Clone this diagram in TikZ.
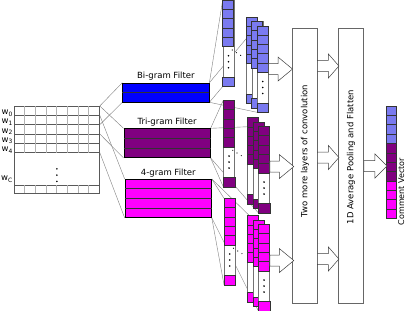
\documentclass[tikz,border=0pt]{standalone}
\usepackage{fontspec}
\setmainfont{DejaVu Sans}
\usetikzlibrary{calc,positioning,backgrounds}
\definecolor{CellBlue}{RGB}{122,122,240}
\definecolor{FiltBlue}{RGB}{0,0,255}
\definecolor{CellPurple}{RGB}{128,0,128}
\definecolor{CellMagenta}{RGB}{255,0,255}
\tikzset{
  gridline/.style={draw=black!65,line width=0.5pt},
  gridthin/.style={draw=black!30,line width=0.4pt},
  filter/.style={draw=black,line width=0.6pt,minimum width=86.5pt,
    inner sep=0pt,anchor=north west},
  flabel/.style={font=\fontsize{8.5}{10}\selectfont,inner sep=1pt},
  wlabel/.style={font=\fontsize{8.5}{10}\selectfont,inner sep=0pt,anchor=base east},
  colbox/.style={draw=black!55,fill=white,line width=0.5pt,minimum width=11pt,
    minimum height=86pt,inner sep=0pt,anchor=north west},
  cell/.style={draw=black!80,line width=0.5pt},
  link/.style={draw=black!50,line width=0.4pt},
  bigbox/.style={draw=black!60,line width=0.6pt,fill=white,inner sep=0pt,
    anchor=north west,minimum height=275pt},
  boxtext/.style={rotate=90,font=\fontsize{8.5}{10}\selectfont,inner sep=0pt},
  barrow/.style={draw=black!75,fill=white,line width=0.5pt},
  dotrow/.style={black,line width=1.2pt,dash pattern=on 0pt off 5pt,line cap=round}
}
% one feature map column: name, top-left, colour
\newcommand\featcol[3]{%
  \node[colbox] (#1) at (#2) {};
  \foreach \k in {0,...,4}
    {\draw[cell,fill=#3] ($(#1.north west)+(0,\k*9.3)$) rectangle ++(11,9.3);}
  \draw[cell,fill=#3] ($(#1.south west)+(0,-9.3)$) rectangle (#1.south east);
}
\newcommand\coldots[1]{%
  \foreach \d in {-6,0,6}
    {\fill ($(#1.center)+(0,18.5+\d)$) circle (0.9pt);}
}
% three stacked maps: prefix, top-left of the back one, colour
\newcommand\fmapstack[3]{%
  \foreach \i in {1,2,3}
    {\featcol{#1\i}{$(#2)+(\i*5.5-5.5,\i*4.4-4.4)$}{#3}}
  \coldots{#13}
}
% hollow block arrow: start, shaft length, head length
\newcommand\blockarrow[3]{%
  \draw[barrow] ($(#1)+(0,-5.5)$) -- ++(#2,0) -- ++(0,-6.5) -- ++(#3,12)
    -- ++(-#3,12) -- ++(0,-6.5) -- ++(-#2,0) -- cycle;
}

\begin{document}
\begin{tikzpicture}[x=1pt,y=-1pt]
  \useasboundingbox (0,0) rectangle (406,310);

  % embedding matrix
  \node[anchor=north west,draw=black!65,line width=0.5pt,minimum width=85.3pt,
    minimum height=86.7pt,inner sep=0pt] (emb) at (14,106) {};
  \foreach \r in {1,...,5}
    \draw[gridline] ($(emb.north west)+(0,\r*9.33)$) -- ++(85.3,0);
  \draw[gridline] ($(emb.south west)+(0,-8.4)$) -- ++(85.3,0);
  \foreach \c in {1,...,7} {
    \draw[gridthin] ($(emb.north west)+(\c*10.66,0)$) -- ++(0,46.65);
    \draw[gridthin] ($(emb.south west)+(\c*10.66,0)$) -- ++(0,-8.4);
  }
  \foreach \r in {0,...,5}
    \coordinate (e\r) at ($(emb.north east)+(0,\r*9.33)$);
  \foreach \d in {-6.3,0,6.3}
    \fill ($(emb.center)+(0,\d+25.5)$) circle (0.9pt);
  \node[wlabel] (w0) at (13,114.5) {w\textsubscript{0}};
  \node[wlabel] (w1) at (13,123.7) {w\textsubscript{1}};
  \node[wlabel] (w2) at (13,133) {w\textsubscript{2}};
  \node[wlabel] (w3) at (13,142.3) {w\textsubscript{3}};
  \node[wlabel] (w4) at (13,151.5) {w\textsubscript{4}};
  \node[wlabel] (wc) at (13,180.5) {w\textsubscript{C}};

  % filters
  \node[filter,fill=FiltBlue,minimum height=19pt] (bi) at (122.3,82.7) {};
  \draw[cell] (bi.west) -- (bi.east);
  \node[filter,fill=CellPurple,minimum height=29pt] (tri) at (123.5,128.3) {};
  \foreach \k in {1,2}
    \draw[cell] ($(tri.north west)!\k/3!(tri.south west)$) -- ($(tri.north east)!\k/3!(tri.south east)$);
  \node[filter,fill=CellMagenta,minimum height=38.3pt] (four) at (124.7,179) {};
  \foreach \k in {1,2,3}
    \draw[cell] ($(four.north west)!\k/4!(four.south west)$) -- ($(four.north east)!\k/4!(four.south east)$);
  \node[flabel,above=1pt of bi] (bilabel) {Bi-gram Filter};
  \node[flabel,above=1pt of tri] (trilabel) {Tri-gram Filter};
  \node[flabel,above=1pt of four] (fourlabel) {4-gram Filter};

  % feature maps
  \featcol{b0}{222.7,0}{CellBlue}
  \featcol{p0}{223.3,100.3}{CellPurple}
  \featcol{m0}{224,198.3}{CellMagenta}
  \foreach \m in {b0,p0,m0}
    {\coldots{\m}}
  \fmapstack{b}{246,17}{CellBlue}
  \fmapstack{p}{247.3,117.5}{CellPurple}
  \fmapstack{m}{247.3,215.5}{CellMagenta}
  \foreach \m in {b,p,m}
    \draw[dotrow] ($(\m0.north west)+(9.5,50)$) -- ++(9.5,6);

  \begin{scope}[on background layer]
    \fill[white] (0,0) rectangle (406,310);
    \draw[link] (e0) -- (bi.north west);
    \draw[link] (e2) -- (bi.south west);
    \draw[link] (e0) -- (tri.north west);
    \draw[link] (e3) -- (tri.south west);
    \draw[link] (e1) -- (four.north west);
    \draw[link] (e5) -- (four.south west);
    \foreach \f/\m in {bi/b,tri/p,four/m} {
      \draw[link] (\f.north east) -- (\m0.north west);
      \draw[link] (\f.south east) -- (\m0.south west);
      \draw[link] (\f.north east) -- (\m3.north west);
      \draw[link] (\f.south east) -- (\m3.south west);
    }
  \end{scope}

  % convolution and pooling
  \node[bigbox,minimum width=24.5pt] (conv) at (292.3,28.3) {};
  \node[bigbox,minimum width=25pt] (pool) at (338.3,28.3) {};
  \node[boxtext] (convtext) at (305,151) {Two more layers of convolution};
  \node[boxtext] (pooltext) at (351,157) {1D Average Pooling and Flatten};
  \coordinate (pa) at ($(p3.east)+(0,-3)$);
  \coordinate (ma) at ($(m3.east)+(0,-7)$);
  \blockarrow{b3.east}{9.5}{14.5}
  \blockarrow{pa}{9.5}{14.5}
  \blockarrow{ma}{9.5}{14.5}
  \coordinate (c1) at (conv.east |- 0,66);
  \coordinate (c2) at (conv.east |- 0,157.5);
  \coordinate (c3) at (conv.east |- 0,259);
  \foreach \c in {c1,c2,c3}
    {\blockarrow{\c}{11}{10.5}}

  % comment vector
  \node[anchor=north west,inner sep=0pt,minimum width=10pt,minimum height=112.3pt] (vec) at (386.7,106) {};
  \foreach \k/\col in {0/CellBlue,1/CellBlue,2/CellBlue,3/CellBlue,
      4/CellPurple,5/CellPurple,6/CellPurple,7/CellPurple,
      8/CellMagenta,9/CellMagenta,10/CellMagenta,11/CellMagenta}
    \draw[cell,fill=\col] ($(vec.north west)+(0,\k*9.36)$) rectangle ++(10,9.36);
  \coordinate (v1) at (pool.east |- 0,166);
  \blockarrow{v1}{11}{12}
  \node[boxtext,font=\fontsize{8}{10}\selectfont] (veclabel) at (401.3,191.5) {Comment Vector};
\end{tikzpicture}
\end{document}
